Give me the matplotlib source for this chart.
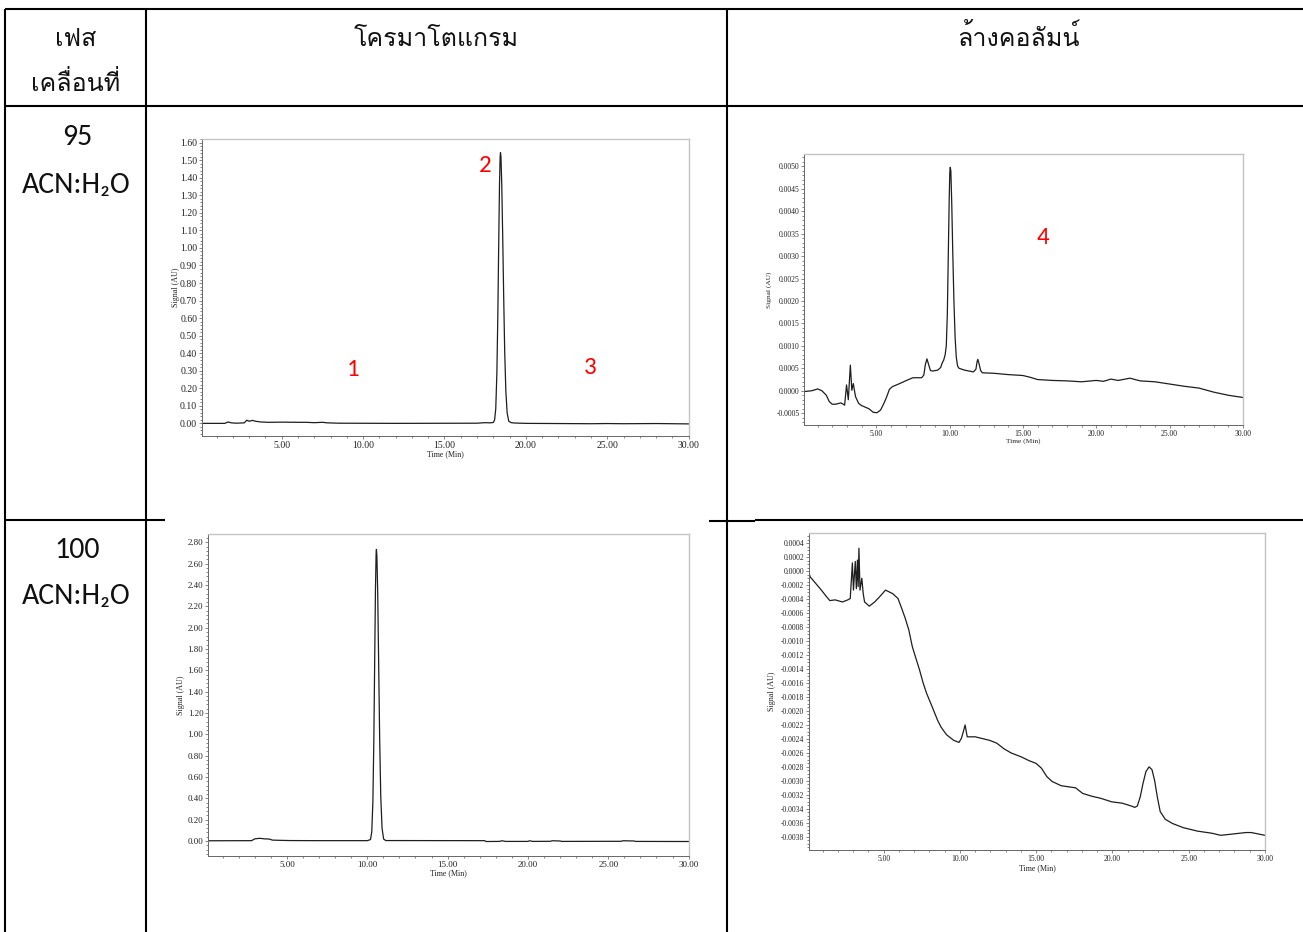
import matplotlib
matplotlib.use("Agg")
import matplotlib.pyplot as plt
from matplotlib.lines import Line2D
from matplotlib.ticker import MultipleLocator, FuncFormatter

plt.rcParams["axes.unicode_minus"] = False

W, H = 1303, 932
THAI_FONT = ["Loma", "DejaVu Sans"]
LATIN_FONT = ["Carlito", "Open Sans", "DejaVu Sans"]
CHART_FONT = ["Liberation Serif", "DejaVu Serif"]
TRACE_COLOR = "#1e1e1e"

# 95 ACN:H2O — sample run
T_95 = [0.1, 1.5, 1.7, 1.9, 2.2, 2.7, 2.85, 3.0, 3.2, 3.4, 3.7, 4.2, 5.0, 6.0,
        6.5, 7.0, 7.5, 7.8, 8.5, 12.0, 17.0, 17.5, 17.8, 18.0, 18.08, 18.15,
        18.22, 18.28, 18.33, 18.38, 18.42, 18.44, 18.47, 18.52, 18.58, 18.64,
        18.70, 18.77, 18.85, 18.95, 19.1, 19.3, 20.0, 22.0, 24.0, 25.0, 26.0,
        28.0, 29.0, 30.0]
S_95 = [0.0, 0.0, 0.008, 0.003, 0.001, 0.003, 0.018, 0.012, 0.017, 0.012,
        0.008, 0.006, 0.007, 0.006, 0.006, 0.004, 0.006, 0.003, 0.001, 0.0,
        0.001, 0.004, 0.003, 0.005, 0.02, 0.083, 0.29, 0.63, 1.01, 1.36, 1.52,
        1.543, 1.52, 1.36, 1.05, 0.71, 0.41, 0.185, 0.06, 0.012, 0.004, 0.002,
        0.0, -0.001, -0.002, -0.001, -0.002, -0.001, -0.002, -0.003]

# 95 ACN:H2O — column wash
T_95W = [0.05, 0.6, 1.02, 1.3, 1.6, 1.8, 2.0, 2.24, 2.6, 2.85, 2.98, 3.1,
         3.24, 3.34, 3.44, 3.59, 3.8, 4.0, 4.5, 4.8, 5.05, 5.3, 5.5, 5.7,
         5.9, 6.1, 6.6, 7.0, 7.5, 8.1, 8.25, 8.35, 8.46, 8.58, 8.7, 8.85,
         9.2, 9.4, 9.5, 9.6, 9.7, 9.78, 9.85, 9.92, 9.98, 10.02, 10.05, 10.09,
         10.15, 10.22, 10.30, 10.38, 10.46, 10.55, 10.65, 11.02, 11.63, 11.8,
         11.88, 11.93, 12.0, 12.12, 12.24, 13.0, 14.0, 15.0, 15.5, 16.0,
         17.0, 18.0, 19.0, 20.0, 20.5, 21.0, 21.5, 22.3, 23.0, 24.0, 25.0,
         26.0, 27.0, 28.0, 29.0, 30.0]
S_95W = [-0.00002, 0.0, 0.00004, 0.0, -0.0001, -0.00024, -0.0003, -0.0003,
         -0.00027, -0.00032, 0.00013, -0.0002, 0.00057, 0.00001, 0.00016,
         -0.00013, -0.00028, -0.00033, -0.0004, -0.00048, -0.00049, -0.00043,
         -0.0003, -0.00015, 0.00003, 0.00009, 0.00016, 0.00022, 0.00029,
         0.00029, 0.00035, 0.00058, 0.00071, 0.00058, 0.00045, 0.00044,
         0.00046, 0.00052, 0.00062, 0.00068, 0.0008, 0.001, 0.0017, 0.0031,
         0.0043, 0.00487, 0.00498, 0.0049, 0.0042, 0.0031, 0.002, 0.0012,
         0.00075, 0.00055, 0.0005, 0.00046, 0.00042, 0.00048, 0.00065, 0.0007,
         0.00062, 0.00045, 0.0004, 0.00039, 0.00036, 0.00034, 0.0003, 0.00025,
         0.00023, 0.00022, 0.0002, 0.00023, 0.00021, 0.00026, 0.00023,
         0.00028, 0.00022, 0.0002, 0.00015, 0.0001, 0.00006, -0.00003,
         -0.0001, -0.00015]

# 100 ACN:H2O — sample run
T_100 = [0.1, 2.8, 3.0, 3.3, 3.6, 3.9, 4.1, 4.6, 5.2, 7.0, 10.0, 10.2, 10.28,
         10.35, 10.41, 10.46, 10.51, 10.55, 10.57, 10.6, 10.65, 10.71, 10.77,
         10.84, 10.92, 11.02, 11.15, 17.3, 17.4, 18.2, 18.4, 18.6, 20.0, 20.1,
         20.3, 21.4, 21.5, 22.0, 22.1, 25.8, 25.9, 26.6, 26.7, 30.0]
S_100 = [0.002, 0.003, 0.02, 0.025, 0.02, 0.018, 0.008, 0.006, 0.004, 0.003,
         0.003, 0.013, 0.085, 0.37, 0.96, 1.66, 2.36, 2.69, 2.734, 2.67, 2.33,
         1.66, 0.98, 0.42, 0.12, 0.018, 0.004, 0.003, -0.005, -0.004, 0.002,
         -0.004, -0.004, 0.002, -0.004, -0.003, 0.002, 0.0, -0.004, -0.003,
         0.002, 0.0, -0.004, -0.005]

# 100 ACN:H2O — column wash
T_100W = [0.05, 0.18, 0.53, 0.88, 1.24, 1.47, 1.82, 2.3, 2.65, 2.81, 2.95,
          3.02, 3.14, 3.21, 3.28, 3.33, 3.38, 3.45, 3.57, 3.66, 3.75, 4.06,
          4.41, 4.76, 5.12, 5.59, 5.94, 6.18, 6.41, 6.65, 6.88, 7.12, 7.35,
          7.59, 7.82, 8.18, 8.53, 8.76, 9.12, 9.59, 9.94, 10.1, 10.22, 10.34,
          10.42, 10.48, 11.0, 11.94, 12.41, 12.88, 13.35, 14.05, 14.52, 14.99,
          15.35, 15.7, 16.05, 16.64, 17.58, 18.05, 18.64, 19.23, 19.94, 20.64,
          21.23, 21.46, 21.63, 21.82, 22.0, 22.19, 22.4, 22.59, 22.76, 22.94,
          23.13, 23.46, 23.93, 24.64, 25.58, 26.52, 27.1, 27.93, 28.75, 29.1,
          30.0]
S_100W = [0.00003, -0.00008, -0.00017, -0.00026, -0.00036, -0.00042,
          -0.00041, -0.00044, -0.00041, -0.00039, 0.00012, -0.00027, 0.00014,
          -0.00025, 0.00016, -0.00022, 0.00033, -0.00027, -0.0001, -0.00032,
          -0.00044, -0.0005, -0.00044, -0.00036, -0.00027, -0.00032, -0.00039,
          -0.00053, -0.00067, -0.00084, -0.00108, -0.00125, -0.00141, -0.0016,
          -0.00175, -0.00194, -0.00213, -0.00223, -0.00234, -0.00242,
          -0.00245, -0.00239, -0.0023, -0.0022, -0.0023, -0.00237, -0.00237,
          -0.00242, -0.00246, -0.00254, -0.0026, -0.00266, -0.00271, -0.00275,
          -0.00282, -0.00294, -0.00301, -0.00307, -0.0031, -0.00318, -0.00322,
          -0.00325, -0.0033, -0.00332, -0.00336, -0.00338, -0.00336, -0.00323,
          -0.00304, -0.00287, -0.0028, -0.00284, -0.00299, -0.00323, -0.00344,
          -0.00355, -0.00361, -0.00367, -0.00372, -0.00375, -0.00378,
          -0.00376, -0.00374, -0.00374, -0.00378]

HEADERS = ["เฟส", "เคลื่อนที่", "โครมาโตแกรม", "ล้างคอลัมน์"]
ROW_RATIO = ["95", "100"]
ROW_PHASE = "ACN:H\u2082O"
PEAK_MARKS = ["1", "2", "3", "4"]


def fx(x):
    return x / W


def fy(y):
    return 1 - y / H


def hline(fig, y, x0, x1, lw=1.5):
    fig.add_artist(Line2D([fx(x0), fx(x1)], [fy(y), fy(y)], color="black",
                          lw=lw, solid_capstyle="butt"))


def vline(fig, x, y0, y1, lw=1.5):
    fig.add_artist(Line2D([fx(x), fx(x)], [fy(y0), fy(y1)], color="black",
                          lw=lw, solid_capstyle="butt"))


def chromatogram(fig, box, t, s, ylim, ystep, yminor, ydec, tick_fs, label_fs,
                 ylabel_x, xlabel_y):
    left, top, right, bottom = box
    ax = fig.add_axes([fx(left), fy(bottom), (right - left) / W,
                       (bottom - top) / H])
    ax.plot(t, s, color=TRACE_COLOR, lw=0.9)
    ax.set_xlim(0.1, 30.0)
    ax.set_ylim(*ylim)
    ax.xaxis.set_major_locator(MultipleLocator(5))
    ax.xaxis.set_minor_locator(MultipleLocator(1))
    ax.yaxis.set_major_locator(MultipleLocator(ystep))
    ax.yaxis.set_minor_locator(MultipleLocator(yminor))
    ax.xaxis.set_major_formatter(FuncFormatter(lambda v, p: f"{v:.2f}"))
    ax.yaxis.set_major_formatter(FuncFormatter(
        lambda v, p: f"{0.0 if abs(v) < ystep * 1e-6 else v:.{ydec}f}"))
    ax.tick_params(which="both", direction="out", color="#555", width=0.5,
                   labelsize=tick_fs, pad=1, labelcolor="#222")
    ax.tick_params(which="major", length=2.5)
    ax.tick_params(which="minor", length=1.3)
    for lab in ax.get_xticklabels() + ax.get_yticklabels():
        lab.set_family(CHART_FONT)
    for side in ("top", "right"):
        ax.spines[side].set_color("#c4c4c4")
        ax.spines[side].set_linewidth(1.0)
    for side in ("left", "bottom"):
        ax.spines[side].set_color("#666")
        ax.spines[side].set_linewidth(0.7)
    ax.set_xlabel("Time (Min)", family=CHART_FONT, fontsize=label_fs,
                  color="#222")
    ax.set_ylabel("Signal (AU)", family=CHART_FONT, fontsize=label_fs,
                  color="#222")
    ax.yaxis.set_label_coords((ylabel_x - left) / (right - left), 0.5)
    ax.xaxis.set_label_coords(0.5, (bottom - xlabel_y) / (bottom - top))
    ax.xaxis.label.set_va("center")
    ax.yaxis.label.set_va("center")
    return ax


fig = plt.figure(figsize=(W / 100, H / 100), dpi=100)
fig.patch.set_facecolor("white")

# table grid
hline(fig, 9, 5, W)
hline(fig, 106, 5, W)
hline(fig, 519.5, 5, 165)
hline(fig, 520.8, 709, 755)
hline(fig, 519.5, 755, W)
vline(fig, 5, 9, H)
vline(fig, 146, 9, H)
vline(fig, 727, 9, H)

# header row
hdr_kw = dict(family=THAI_FONT, fontsize=18, ha="center", va="baseline",
              color="#111")
fig.text(fx(76), fy(46), HEADERS[0], **hdr_kw)
fig.text(fx(76), fy(91), HEADERS[1], **hdr_kw)
fig.text(fx(436), fy(46), HEADERS[2], **hdr_kw)
fig.text(fx(1018), fy(46), HEADERS[3], **hdr_kw)

# mobile phase labels
row_kw = dict(family=LATIN_FONT, fontsize=21.5, ha="center", va="baseline",
              color="#111")
fig.text(fx(77), fy(145), ROW_RATIO[0], **row_kw)
fig.text(fx(76), fy(193), ROW_PHASE, **row_kw)
fig.text(fx(77), fy(558), ROW_RATIO[1], **row_kw)
fig.text(fx(76), fy(604), ROW_PHASE, **row_kw)

ax1 = chromatogram(fig, (202, 139, 688.6, 436), T_95, S_95, (-0.072, 1.621),
                   0.1, 0.02, 2, 7.0, 5.8, 176, 454)
ax2 = chromatogram(fig, (804.3, 154.3, 1242.9, 425.3), T_95W, S_95W,
                   (-0.00077, 0.00527), 0.0005, 0.0001, 4, 5.5, 5.3, 769, 441)
ax3 = chromatogram(fig, (208.2, 534, 688.6, 855.7), T_100, S_100,
                   (-0.138, 2.878), 0.2, 0.04, 2, 6.5, 5.8, 181, 873)
ax4 = chromatogram(fig, (808.9, 533.3, 1265, 850), T_100W, S_100W,
                   (-0.00399, 0.000543), 0.0002, 0.00005, 4, 5.5, 5.8, 772, 868)

# peak region markers
mark_kw = dict(family=LATIN_FONT, fontsize=18, color="#ff0000", ha="center",
               va="center")
fig.text(fx(353), fy(370), PEAK_MARKS[0], **mark_kw)
fig.text(fx(485), fy(165), PEAK_MARKS[1], **mark_kw)
fig.text(fx(590), fy(368), PEAK_MARKS[2], **mark_kw)
fig.text(fx(1043), fy(237), PEAK_MARKS[3], **mark_kw)

fig.savefig("out.png", dpi=100, facecolor="white")
